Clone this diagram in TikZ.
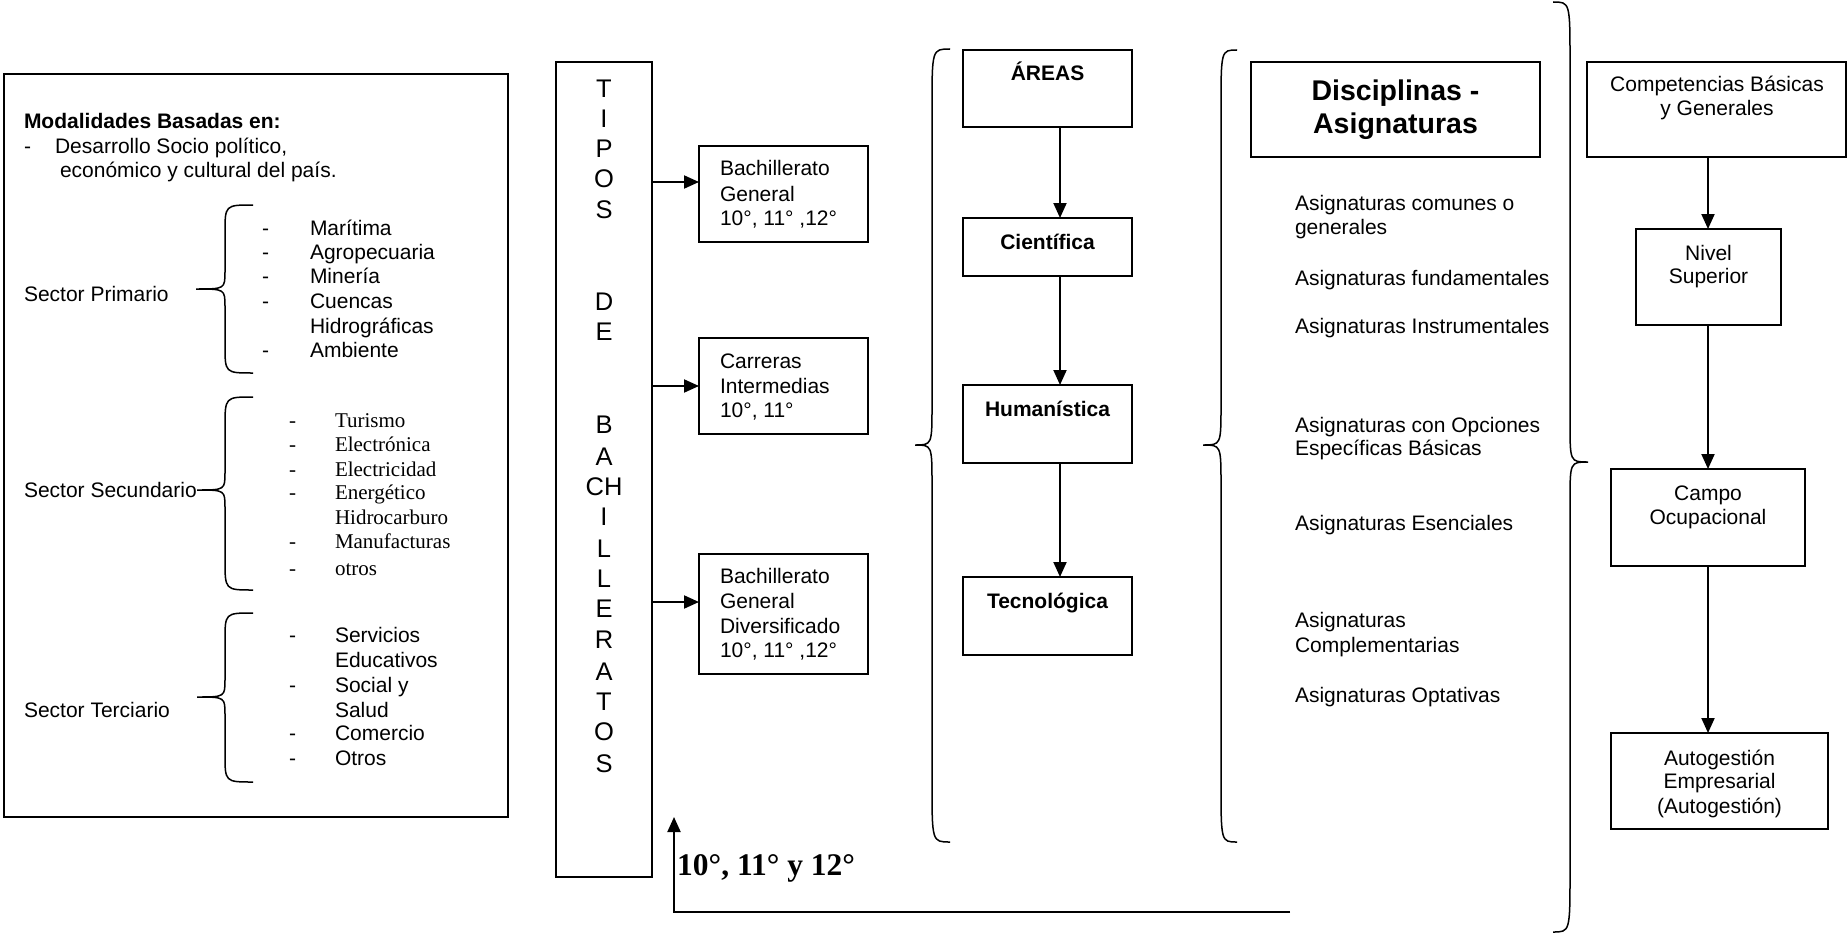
\documentclass[tikz,border=0pt]{standalone}
\usepackage{fontspec}
\setmainfont{Liberation Sans}
\newfontfamily\tmsfont{Liberation Serif}
\usetikzlibrary{arrows.meta}
% #1 style, #2 xend, #3 xvert, #4 xtip, #5 ytop, #6 ytip, #7 ybot, #8 r ends, #9 r middle
\newcommand{\drawbrace}[9]{%
  \draw[#1] (#2,#5) .. controls (#3,#5) .. ({#3},{#5+#8})
    -- ({#3},{#6-#9}) .. controls (#3,#6) .. (#4,#6)
    .. controls (#3,#6) .. ({#3},{#6+#9})
    -- ({#3},{#7-#8}) .. controls (#3,#7) .. (#2,#7);}
\tikzset{
  bx/.style={draw=black, line width=2pt, rectangle, inner sep=0pt, outer sep=0pt},
  arr/.style={line width=2pt, -{Triangle[length=15pt,width=13pt]}},
  brc/.style={line width=1.5pt},
  lt/.style={anchor=base west, inner sep=0pt, outer sep=0pt, font=\fontsize{21}{24}\selectfont},
  ltb/.style={lt, font=\fontsize{21}{24}\selectfont\bfseries},
  ltt/.style={lt, font=\fontsize{21}{24}\selectfont\tmsfont},
  ct/.style={anchor=base, inner sep=0pt, outer sep=0pt, font=\fontsize{21}{24}\selectfont},
  ctb/.style={ct, font=\fontsize{21}{24}\selectfont\bfseries},
  bigb/.style={ct, font=\fontsize{28.5}{33}\selectfont\bfseries},
  tip/.style={ct, font=\fontsize{25.5}{30}\selectfont},
}
\begin{document}
\begin{tikzpicture}[x=1pt,y=-1pt]
\fill[white] (0,0) rectangle (1847,934);
\useasboundingbox (0,0) rectangle (1847,934);

% ---------------- left box ----------------
\node[bx, minimum width=504pt, minimum height=743pt] (modbox) at (256,445.5) {};
\node[ltb] (mod) at (24,128) {Modalidades Basadas en:};
\node[lt] (d0) at (24,153) {-};
\node[lt] (des1) at (55,153) {Desarrollo Socio político,};
\node[lt] (des2) at (60,177) {económico y cultural del país.};

\node[lt] (sp) at (24,301) {Sector Primario};
\drawbrace{brc}{253}{225}{196}{205}{289}{373}{28}{18}
\foreach \w/\y [count=\i] in {Marítima/235, Agropecuaria/259, Minería/283, Cuencas/308, Ambiente/357}{
  \node[lt] (pd\i) at (262,\y) {-};
  \node[lt] (pi\i) at (310,\y) {\w};
}
\node[lt] (pihid) at (310,333) {Hidrográficas};

\node[lt] (ss) at (24,497) {Sector Secundario};
\drawbrace{brc}{253}{225}{197}{397}{490}{590}{30}{18}
\foreach \w/\y [count=\i] in {Turismo/427, Electrónica/451, Electricidad/476, Energético/499, Manufacturas/548, otros/575}{
  \node[ltt] (sd\i) at (289,\y) {-};
  \node[ltt] (si\i) at (335,\y) {\w};
}
\node[ltt] (sihid) at (335,524) {Hidrocarburo};

\node[lt] (st) at (24,717) {Sector Terciario};
\drawbrace{brc}{253}{225}{197}{613}{697}{782}{28}{18}
\foreach \w/\y [count=\i] in {Servicios/642, Social y/692, Comercio/740, Otros/765}{
  \node[lt] (td\i) at (289,\y) {-};
  \node[lt] (ti\i) at (335,\y) {\w};
}
\node[lt] (tedu) at (335,667) {Educativos};
\node[lt] (tsal) at (335,717) {Salud};

% ---------------- tipos de bachilleratos ----------------
\node[bx, minimum width=96pt, minimum height=815pt] (tipos) at (604,469.5) {};
\foreach \l/\y [count=\i] in {T/97, I/127, P/157, O/187, S/218, D/310, E/340, B/433, A/465, CH/495, I/525, L/557, L/587, E/617, R/648, A/680, T/710, O/740, S/772}{
  \node[tip] (tl\i) at (604,\y) {\l};
}

\node[bx, minimum width=169pt, minimum height=96pt] (bg) at (783.5,194) {};
\node[lt] (bg1) at (720,175) {Bachillerato};
\node[lt] (bg2) at (720,201) {General};
\node[lt] (bg3) at (720,225) {10°, 11° ,12°};

\node[bx, minimum width=169pt, minimum height=96pt] (ci) at (783.5,386) {};
\node[lt] (ci1) at (720,368) {Carreras};
\node[lt] (ci2) at (720,393) {Intermedias};
\node[lt] (ci3) at (720,417) {10°, 11°};

\node[bx, minimum width=169pt, minimum height=120pt] (bgd) at (783.5,614) {};
\node[lt] (bgd1) at (720,583) {Bachillerato};
\node[lt] (bgd2) at (720,608) {General};
\node[lt] (bgd3) at (720,633) {Diversificado};
\node[lt] (bgd4) at (720,657) {10°, 11° ,12°};

\coordinate (bgin) at ([yshift=12pt]bg.west);
\coordinate (bgdin) at ([yshift=12pt]bgd.west);
\draw[arr] (tipos.east |- bgin) -- (bgin);
\draw[arr] (tipos.east |- ci.west) -- (ci.west);
\draw[arr] (tipos.east |- bgdin) -- (bgdin);

% bottom return arrow
\coordinate (lineend) at (1290,912);
\coordinate (corner) at (674,912);
\coordinate (tipup) at (674,817);
\draw[arr] (lineend) -- (corner) -- (tipup);
\node[anchor=base west, inner sep=0pt, font=\fontsize{31.5}{36}\selectfont\tmsfont\bfseries] (grados) at (677,875) {10°, 11° y 12°};

% ---------------- areas ----------------
\drawbrace{brc}{950}{932}{915}{49}{445}{842}{60}{40}
\node[bx, minimum width=169pt, minimum height=77pt] (areas) at (1047.5,88.5) {};
\node[bx, minimum width=169pt, minimum height=58pt] (cient) at (1047.5,247) {};
\node[bx, minimum width=169pt, minimum height=78pt] (hum) at (1047.5,424) {};
\node[bx, minimum width=169pt, minimum height=78pt] (tec) at (1047.5,616) {};
\node[ctb] (areast) at (1047.5,81) {ÁREAS};
\node[ctb] (cientt) at (1047.5,249) {Científica};
\node[ctb] (humt) at (1047.5,416) {Humanística};
\node[ctb] (tect) at (1047.5,608) {Tecnológica};
\draw[arr] ([xshift=12.5pt]areas.south) -- ([xshift=12.5pt]cient.north);
\draw[arr] ([xshift=12.5pt]cient.south) -- ([xshift=12.5pt]hum.north);
\draw[arr] ([xshift=12.5pt]hum.south) -- ([xshift=12.5pt]tec.north);

% ---------------- disciplinas ----------------
\drawbrace{brc}{1237}{1221}{1203}{50}{445}{842}{60}{40}
\node[bx, minimum width=289pt, minimum height=95pt] (disc) at (1395.5,109.5) {};
\node[bigb] (disc1) at (1395.5,100) {Disciplinas -};
\node[bigb] (disc2) at (1395.5,133) {Asignaturas};
\foreach \w/\y [count=\i] in {Asignaturas comunes o/210, generales/234, Asignaturas fundamentales/285, Asignaturas Instrumentales/333, Asignaturas con Opciones/432, Específicas Básicas/455, Asignaturas Esenciales/530, Asignaturas/627, Complementarias/652, Asignaturas Optativas/702}{
  \node[lt] (as\i) at (1295,\y) {\w};
}

% big right brace
\drawbrace{brc}{1553}{1570}{1588}{2}{462}{932}{60}{40}

% ---------------- right column ----------------
\node[bx, minimum width=259pt, minimum height=95pt] (comp) at (1716.5,109.5) {};
\node[ct] (comp1) at (1717,92) {Competencias Básicas};
\node[ct] (comp2) at (1717,115) {y Generales};
\node[bx, minimum width=145pt, minimum height=96pt] (niv) at (1708.5,277) {};
\node[ct] (niv1) at (1708.5,260) {Nivel};
\node[ct] (niv2) at (1708.5,283) {Superior};
\node[bx, minimum width=194pt, minimum height=97pt] (campo) at (1708,517.5) {};
\node[ct] (campo1) at (1708,500) {Campo};
\node[ct] (campo2) at (1708,524) {Ocupacional};
\node[bx, minimum width=217pt, minimum height=96pt] (auto) at (1719.5,781) {};
\node[ct] (auto1) at (1719.5,765) {Autogestión};
\node[ct] (auto2) at (1719.5,788) {Empresarial};
\node[ct] (auto3) at (1719.5,813) {(Autogestión)};
\draw[arr] (comp.south -| campo.north) -- (niv.north -| campo.north);
\draw[arr] (niv.south -| campo.north) -- (campo.north);
\draw[arr] (campo.south) -- (campo.south |- auto.north);
\end{tikzpicture}
\end{document}
